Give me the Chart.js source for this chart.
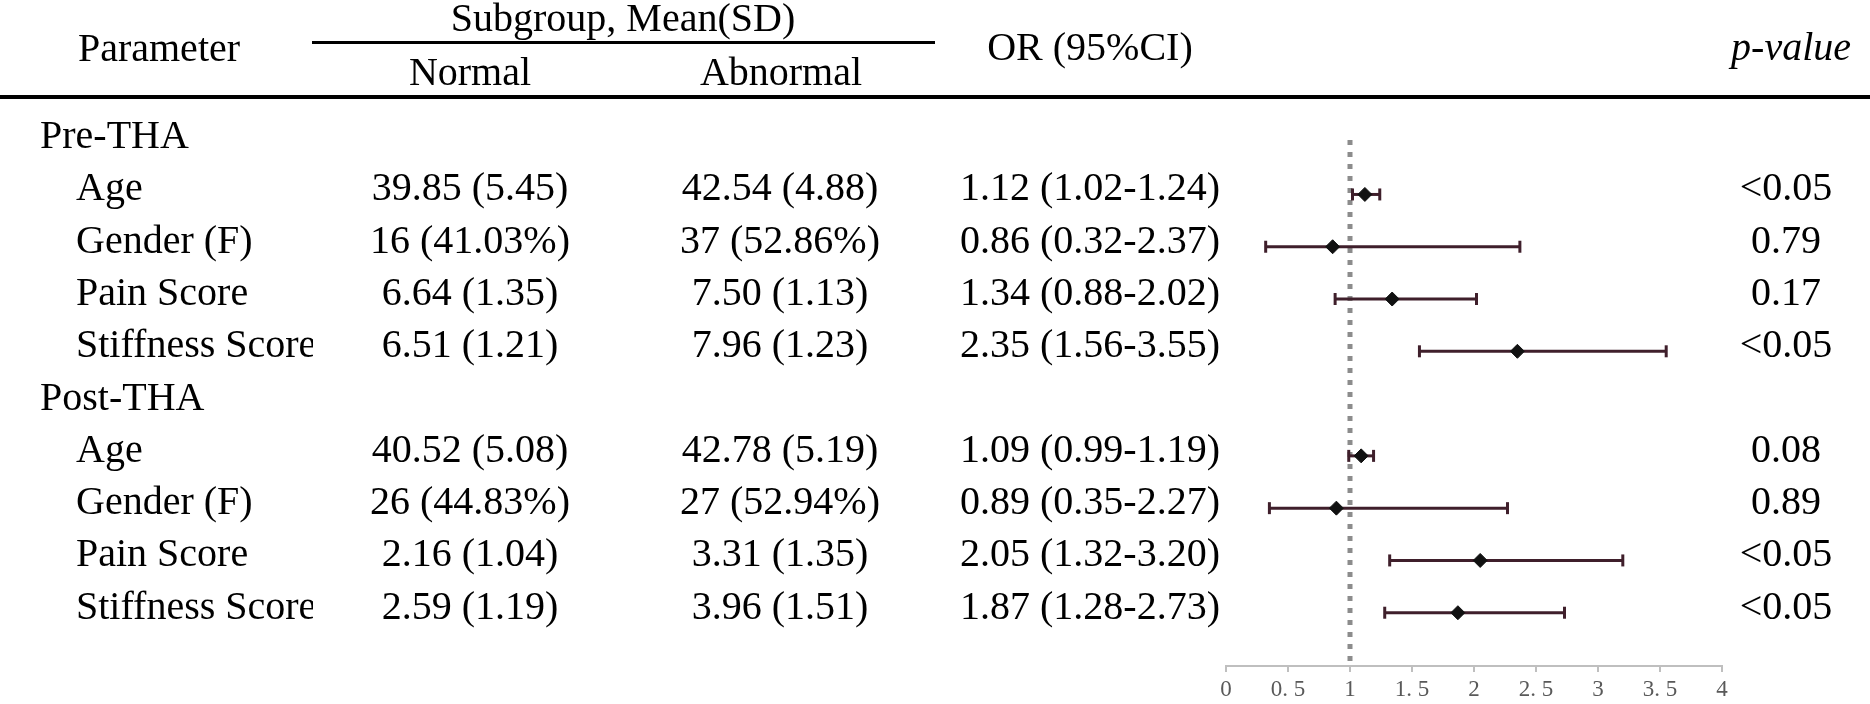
<!DOCTYPE html>
<html>
<head>
<meta charset="utf-8">
<script src="https://cdn.jsdelivr.net/npm/chart.js@4.4.1/dist/chart.umd.min.js"></script>
<style>
  html, body { margin: 0; padding: 0; background: #fff; }
  #wrap { width: 1870px; height: 704px; }
</style>
</head>
<body>
<div id="wrap"><canvas id="forest" width="1870" height="704"></canvas></div>
<script>
const sections = ['Pre-THA', 'Post-THA'];
const params = ['Age', 'Gender (F)', 'Pain Score', 'Stiffness Score'];
const normalVals = ['39.85 (5.45)', '16 (41.03%)', '6.64 (1.35)', '6.51 (1.21)',
                    '40.52 (5.08)', '26 (44.83%)', '2.16 (1.04)', '2.59 (1.19)'];
const abnormalVals = ['42.54 (4.88)', '37 (52.86%)', '7.50 (1.13)', '7.96 (1.23)',
                      '42.78 (5.19)', '27 (52.94%)', '3.31 (1.35)', '3.96 (1.51)'];
const orVals = [1.12, 0.86, 1.34, 2.35, 1.09, 0.89, 2.05, 1.87];
const ciLow = [1.02, 0.32, 0.88, 1.56, 0.99, 0.35, 1.32, 1.28];
const ciHigh = [1.24, 2.37, 2.02, 3.55, 1.19, 2.27, 3.20, 2.73];
const pValues = ['<0.05', '0.79', '0.17', '<0.05', '0.08', '0.89', '<0.05', '<0.05'];
const tickLabels = ['0', '0. 5', '1', '1. 5', '2', '2. 5', '3', '3. 5', '4'];

// row index on the y scale: section header, then its 4 parameters
const sectionRows = [0, 5];
const itemRows = [1, 2, 3, 4, 6, 7, 8, 9];
const Y_MIN = -2.547, Y_MAX = 10.019;

const barColor = '#3f1f2b';
const serif = '"Liberation Serif", "Times New Roman", serif';
const FONT = '40px ' + serif;

const datasets = [];
// reference line at OR = 1
datasets.push({
    type: 'line',
    data: [{ x: 1, y: -0.04 }, { x: 1, y: Y_MAX }],
    borderColor: '#8c8c8c',
    borderWidth: 5,
    borderDash: [5, 7],
    borderCapStyle: 'butt',
    pointRadius: 0,
    order: 3
});
// CI whiskers with caps
itemRows.forEach((r, i) => {
    datasets.push({
        type: 'line',
        data: [{ x: ciLow[i], y: r }, { x: ciHigh[i], y: r }],
        borderColor: barColor,
        borderWidth: 3,
        pointStyle: 'line',
        rotation: 90,
        pointRadius: 6,
        pointBorderWidth: 3,
        pointBorderColor: barColor,
        order: 2
    });
});
// OR points
datasets.push({
    type: 'scatter',
    data: itemRows.map((r, i) => ({ x: orVals[i], y: r })),
    pointStyle: 'rectRot',
    pointRadius: 7,
    backgroundColor: '#111',
    borderColor: '#111',
    borderWidth: 1,
    order: 1
});

const tablePlugin = {
    id: 'tableText',
    afterDraw(chart) {
        const ctx = chart.ctx;
        const ys = chart.scales.y;
        ctx.save();
        ctx.fillStyle = '#000';
        ctx.textBaseline = 'alphabetic';
        ctx.font = FONT;

        // header
        ctx.textAlign = 'center';
        ctx.fillText('Parameter', 159, 61);
        ctx.fillText('Subgroup, Mean(SD)', 623, 31);
        ctx.fillText('Normal', 470, 85);
        ctx.fillText('Abnormal', 781, 85);
        ctx.fillText('OR (95%CI)', 1090, 60);
        ctx.textAlign = 'right';
        ctx.font = 'italic ' + FONT;
        ctx.fillText('p-value', 1851, 60);
        ctx.font = FONT;

        // rules
        ctx.fillRect(312, 41, 623, 3);
        ctx.fillRect(0, 95, 1870, 4);

        // section headers
        ctx.textAlign = 'left';
        sectionRows.forEach((r, s) => {
            ctx.fillText(sections[s], 40, ys.getPixelForValue(r) + 6);
        });

        itemRows.forEach((r, i) => {
            const y = ys.getPixelForValue(r) + 6;
            ctx.save();
            ctx.beginPath();
            ctx.rect(0, y - 50, 313, 80);
            ctx.clip();
            ctx.textAlign = 'left';
            ctx.fillText(params[i % 4], 76, y);
            ctx.restore();
            ctx.textAlign = 'center';
            ctx.fillText(normalVals[i], 470, y);
            ctx.fillText(abnormalVals[i], 780, y);
            ctx.fillText(orVals[i].toFixed(2) + ' (' + ciLow[i].toFixed(2) + '-' + ciHigh[i].toFixed(2) + ')', 1090, y);
            ctx.fillText(pValues[i], 1786, y);
        });
        ctx.restore();
    }
};

new Chart(document.getElementById('forest'), {
    type: 'scatter',
    data: { datasets },
    plugins: [tablePlugin],
    options: {
        responsive: false,
        animation: false,
        devicePixelRatio: 1,
        layout: { padding: { left: 1226, right: 148, top: 0, bottom: 0 } },
        plugins: { legend: { display: false }, tooltip: { enabled: false } },
        scales: {
            x: {
                type: 'linear',
                min: 0,
                max: 4,
                afterFit: (scale) => { scale.height = 38; },
                ticks: {
                    stepSize: 0.5,
                    padding: 4,
                    color: '#595959',
                    font: { family: serif, size: 23 },
                    callback: (v, i) => tickLabels[i]
                },
                grid: { drawOnChartArea: false, color: '#bfbfbf', lineWidth: 2, tickLength: 6 },
                border: { color: '#bfbfbf', width: 2 }
            },
            y: {
                display: false,
                reverse: true,
                min: Y_MIN,
                max: Y_MAX
            }
        }
    }
});
</script>
</body>
</html>
